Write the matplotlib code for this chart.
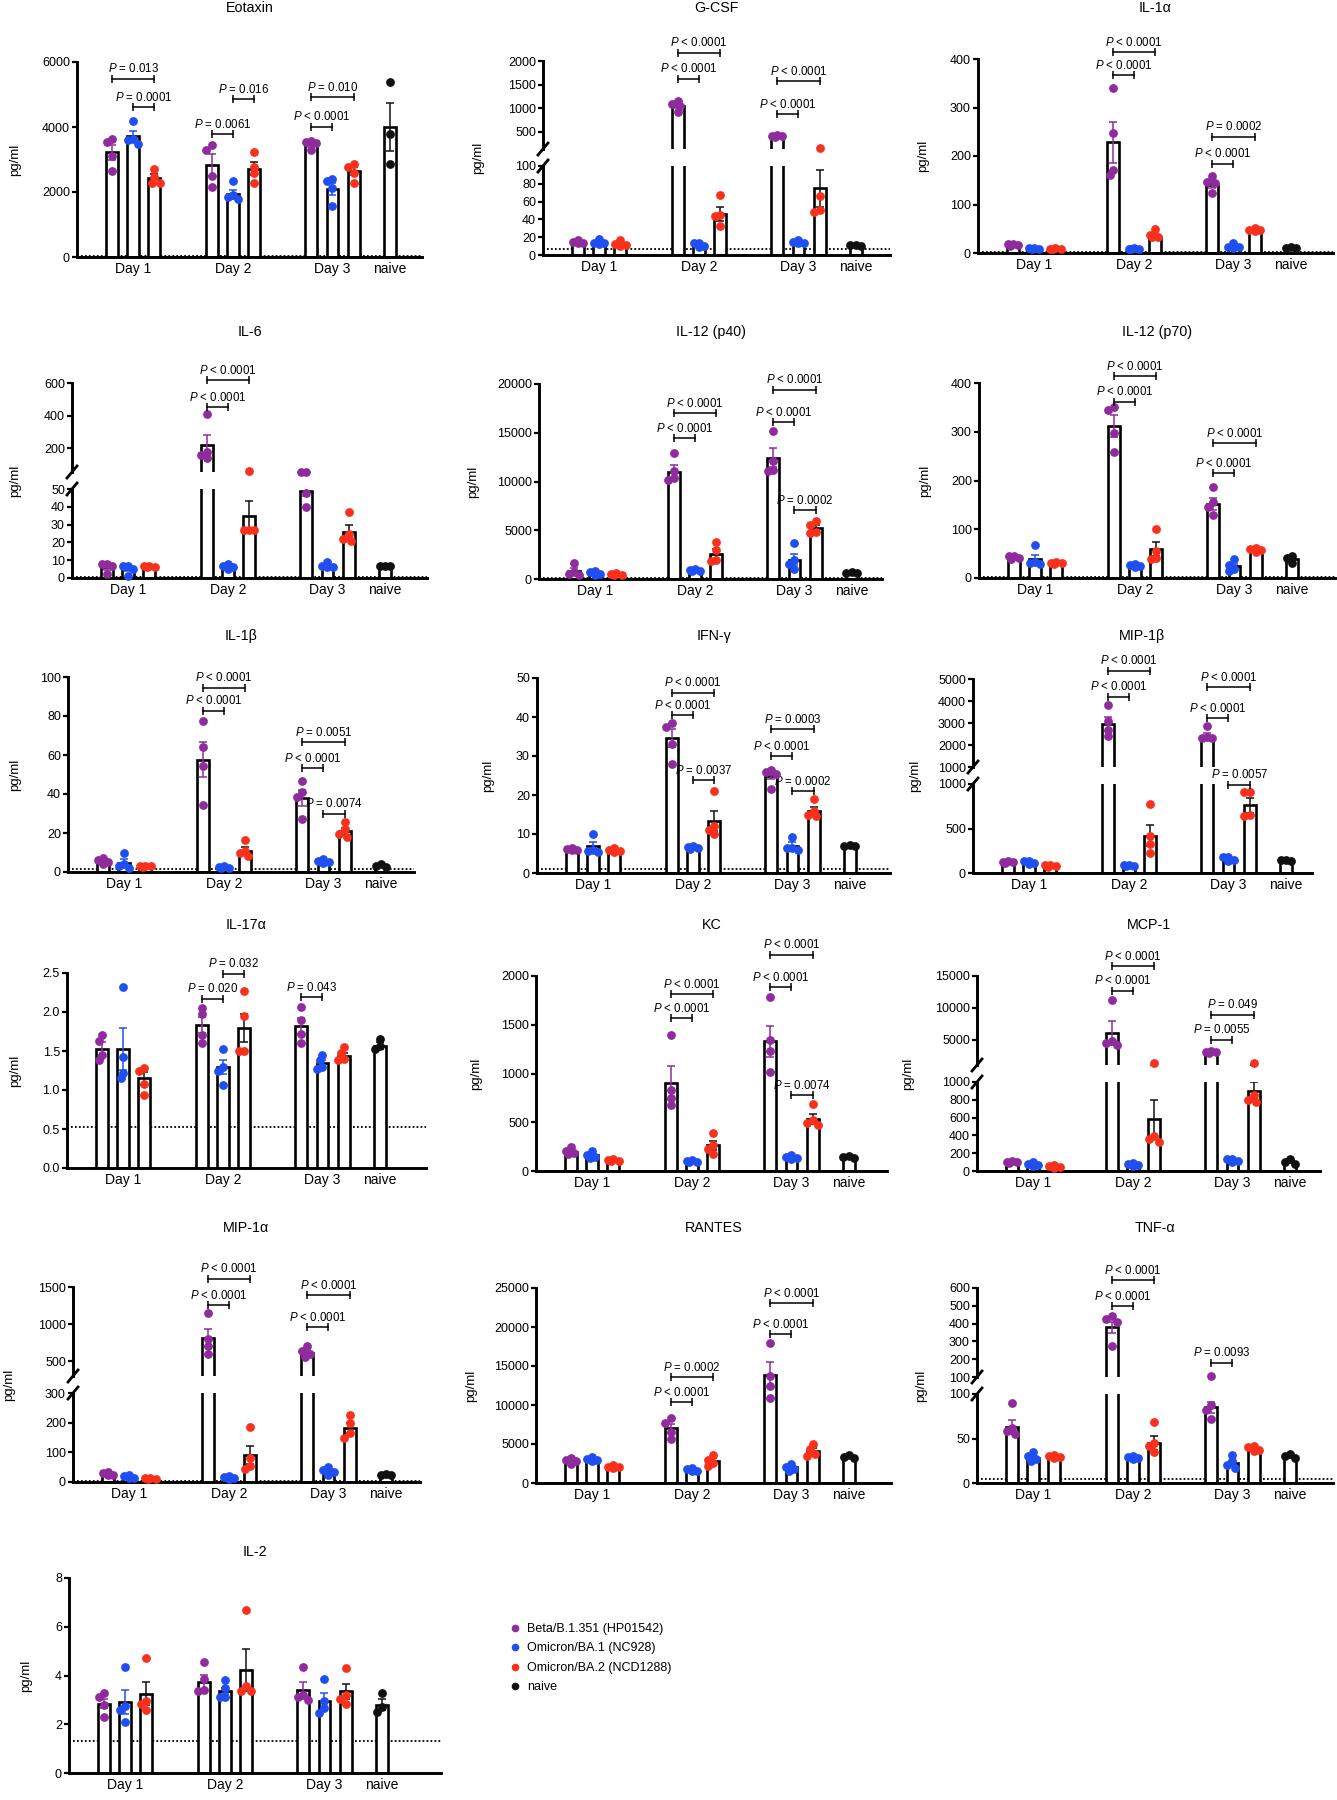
import matplotlib.pyplot as plt
from matplotlib.lines import Line2D

plt.rcParams['font.family'] = ['Liberation Sans', 'DejaVu Sans']
plt.rcParams['mathtext.fontset'] = 'custom'
plt.rcParams['mathtext.it'] = 'Liberation Sans:italic'
plt.rcParams['mathtext.rm'] = 'Liberation Sans'

W, H = 1337, 1800
fig = plt.figure(figsize=(W / 100, H / 100), dpi=100)

groups = ['Day 1', 'Day 2', 'Day 3', 'naive']
strains = ['Beta/B.1.351 (HP01542)', 'Omicron/BA.1 (NC928)',
           'Omicron/BA.2 (NCD1288)', 'naive']
colors = ['#8f2b9c', '#1f4ff0', '#f8301c', '#111111']
err_colors = ['#8f2b9c', '#1f4ff0', '#111111', '#111111']
bar_strain = [0, 1, 2, 0, 1, 2, 0, 1, 2, 3]
xpos = [0, 1, 2, 4.7, 5.7, 6.7, 9.4, 10.4, 11.4, 13.1]
group_x = [1, 5.7, 10.4, 13.1]

# ---- data: bar means, SEM, individual animals, comparisons (bar i, bar j, bracket y, label)
eotaxin_mean = [3230, 3720, 2420, 2820, 1930, 2720, 3470, 2090, 2640, 4000]
eotaxin_sem = [230, 150, 130, 340, 130, 190, 80, 190, 120, 750]
eotaxin_pts = [[3530, 3640, 3100, 2640], [4200, 3480, 3600, 3620], [2700, 2450, 2270, 2280],
               [3300, 3450, 2500, 2150], [2330, 1850, 1800, 1900], [3230, 2780, 2570, 2290],
               [3560, 3500, 3530, 3280], [2350, 2400, 2130, 1570], [2780, 2850, 2600, 2290],
               [5400, 3800, 2850]]
eotaxin_p = [(0, 2, 5480, '= 0.013'), (1, 2, 4610, '= 0.0001'), (3, 4, 3780, '= 0.0061'),
             (4, 5, 4860, '= 0.016'), (6, 8, 4920, '= 0.010'), (6, 7, 4010, '< 0.0001')]

gcsf_mean = [15, 13, 12, 1040, 11, 46, 405, 14, 75, 10]
gcsf_sem = [1, 1.5, 1.5, 40, 1, 7.5, 8, 1, 21, 0.5]
gcsf_pts = [[17, 14, 15, 14], [18, 14, 12, 13], [17, 12, 10, 11], [1090, 1160, 1040, 910],
            [14, 13, 10, 9], [67, 45, 44, 33], [420, 410, 400, 395], [17, 15, 13, 13],
            [150, 66, 51, 48], [11, 11, 10]]
gcsf_p = [(3, 5, 2180, '< 0.0001'), (3, 4, 1620, '< 0.0001'),
          (6, 8, 1565, '< 0.0001'), (6, 7, 870, '< 0.0001')]

il1a_mean = [17, 10, 9, 228, 9, 34, 141, 14, 47, 11]
il1a_sem = [1, 0.5, 0.5, 42, 0.5, 5, 7, 2, 1.5, 0.5]
il1a_pts = [[19, 18, 17, 15], [11, 10, 9, 9], [10, 9, 8, 8], [340, 247, 172, 160],
            [10, 9, 9, 8], [49, 38, 33, 32], [158, 147, 145, 124], [20, 13, 12, 11],
            [51, 48, 47, 45], [12, 11, 11]]
il1a_p = [(3, 5, 414, '< 0.0001'), (3, 4, 366, '< 0.0001'),
          (6, 8, 240, '= 0.0002'), (6, 7, 184, '< 0.0001')]

il6_mean = [6, 5, 6, 220, 6, 35, 49, 6, 26, 7]
il6_sem = [1.3, 1.3, 0.5, 65, 0.7, 8, 3, 0.8, 4, 0.3]
il6_pts = [[8, 8, 7, 2], [7, 7, 5, 1], [7, 7, 6, 6], [410, 180, 160, 140], [8, 7, 6, 5],
           [60, 27, 27, 27], [58, 58, 48, 40], [9, 7, 6, 6], [37, 25, 22, 21], [7, 7, 7]]
il6_p = [(3, 5, 616, '< 0.0001'), (3, 4, 452, '< 0.0001')]

p40_mean = [800, 600, 500, 10950, 900, 2600, 12450, 2000, 5200, 650]
p40_sem = [300, 100, 50, 700, 80, 500, 950, 600, 300, 50]
p40_pts = [[1600, 700, 400, 500], [850, 700, 500, 450], [600, 500, 450, 450],
           [12900, 11100, 10400, 10200], [1000, 950, 850, 800], [3800, 3000, 1900, 1800],
           [15200, 12100, 11200, 11100], [3700, 1900, 1500, 1000], [5900, 5500, 4700, 4800],
           [700, 650, 600]]
p40_p = [(3, 5, 17000, '< 0.0001'), (3, 4, 14440, '< 0.0001'), (6, 8, 19390, '< 0.0001'),
         (6, 7, 16080, '< 0.0001'), (7, 8, 7030, '= 0.0002')]

p70_mean = [41, 38, 30, 312, 25, 59, 152, 24, 57, 39]
p70_sem = [2, 10, 1, 22, 1.5, 14, 12, 5, 2, 4]
p70_pts = [[46, 46, 42, 39], [67, 32, 30, 28], [32, 30, 30, 29], [350, 345, 298, 258],
           [28, 26, 24, 22], [100, 55, 42, 40], [187, 155, 145, 130], [38, 27, 18, 15],
           [62, 60, 58, 53], [46, 42, 31]]
p70_p = [(3, 5, 414, '< 0.0001'), (3, 4, 362, '< 0.0001'),
         (6, 8, 276, '< 0.0001'), (6, 7, 215, '< 0.0001')]

il1b_mean = [5, 4.6, 3, 57.5, 2.5, 11, 38, 5, 21, 3]
il1b_sem = [0.7, 2, 0.2, 9, 0.2, 2, 4.3, 0.6, 1.8, 0.4]
il1b_pts = [[7, 6, 5, 4], [10, 4, 3, 2], [3.3, 3, 3, 2.8], [77.5, 64, 54.5, 34.5],
            [3, 2.7, 2.3, 2], [16.5, 11, 10, 8], [46.5, 41, 38.5, 27], [6.5, 5.5, 5, 4.5],
            [25.5, 22, 19.5, 18], [4, 3, 2.5]]
il1b_p = [(3, 5, 94.4, '< 0.0001'), (3, 4, 82.7, '< 0.0001'), (6, 8, 66.5, '= 0.0051'),
          (6, 7, 53.3, '< 0.0001'), (7, 8, 29.9, '= 0.0074')]

ifng_mean = [6, 6.8, 6, 34.5, 6.5, 13.3, 25, 7, 16, 7]
ifng_sem = [0.2, 1.2, 0.2, 2.3, 0.15, 2.6, 0.8, 1, 1, 0.2]
ifng_pts = [[6.5, 6.2, 6, 5.8], [10, 6, 5.7, 5.5], [6.3, 6, 5.7, 5.5], [38.5, 37.5, 33, 28],
            [6.8, 6.6, 6.4, 6.2], [21, 12, 11, 10], [26.5, 26, 25.5, 21.5], [9.3, 6.5, 6.3, 6],
            [19, 16, 15, 14.5], [7.2, 7, 6.8]]
ifng_p = [(3, 5, 46.2, '< 0.0001'), (3, 4, 40.4, '< 0.0001'), (4, 5, 23.8, '= 0.0037'),
          (6, 8, 36.8, '= 0.0003'), (6, 7, 30, '< 0.0001'), (7, 8, 20.9, '= 0.0002')]

mip1b_mean = [120, 120, 80, 2960, 80, 420, 2400, 160, 760, 140]
mip1b_sem = [5, 10, 6, 320, 4, 120, 140, 12, 85, 5]
mip1b_pts = [[130, 125, 120, 115], [140, 135, 110, 100], [95, 85, 75, 70],
             [3800, 3100, 2700, 2400], [90, 85, 80, 75], [770, 420, 330, 230],
             [2850, 2350, 2300, 2300], [185, 175, 150, 130], [910, 910, 650, 640],
             [150, 145, 135]]
mip1b_p = [(3, 5, 5376, '< 0.0001'), (3, 4, 4203, '< 0.0001'), (6, 8, 4624, '< 0.0001'),
           (6, 7, 3225, '< 0.0001'), (7, 8, 992, '= 0.0057')]

il17_mean = [1.53, 1.53, 1.15, 1.83, 1.29, 1.80, 1.82, 1.35, 1.43, 1.57]
il17_sem = [0.08, 0.27, 0.08, 0.10, 0.09, 0.18, 0.10, 0.04, 0.04, 0.04]
il17_pts = [[1.70, 1.63, 1.45, 1.38], [2.32, 1.42, 1.22, 1.15], [1.28, 1.25, 1.08, 0.93],
            [2.05, 1.97, 1.70, 1.60], [1.53, 1.30, 1.25, 1.06], [2.27, 1.95, 1.50, 1.50],
            [2.06, 1.90, 1.72, 1.60], [1.45, 1.38, 1.30, 1.27], [1.55, 1.48, 1.40, 1.38],
            [1.65, 1.57, 1.53]]
il17_p = [(3, 4, 2.17, '= 0.020'), (4, 5, 2.49, '= 0.032'), (6, 7, 2.19, '= 0.043')]

kc_mean = [190, 160, 110, 900, 100, 265, 1330, 140, 530, 140]
kc_sem = [20, 15, 5, 175, 5, 45, 160, 10, 50, 8]
kc_pts = [[250, 210, 180, 170], [205, 160, 140, 130], [120, 115, 105, 100],
          [1400, 830, 750, 680], [110, 105, 95, 90], [390, 270, 230, 170],
          [1780, 1340, 1230, 1020], [160, 145, 135, 120], [690, 520, 490, 470], [150, 140, 130]]
kc_p = [(3, 5, 1815, '< 0.0001'), (3, 4, 1565, '< 0.0001'), (6, 8, 2216, '< 0.0001'),
        (6, 7, 1884, '< 0.0001'), (7, 8, 777, '= 0.0074')]

mcp1_mean = [100, 80, 50, 6000, 70, 580, 3000, 120, 900, 100]
mcp1_sem = [4, 9, 9, 1850, 8, 220, 70, 9, 100, 12]
mcp1_pts = [[110, 105, 100, 95], [100, 80, 70, 60], [70, 55, 40, 35],
            [11200, 4800, 4500, 4200], [90, 75, 65, 55], [1350, 390, 360, 330],
            [3200, 3100, 3000, 2900], [140, 130, 115, 100], [1350, 850, 800, 780],
            [130, 100, 80]]
mcp1_p = [(3, 5, 16560, '< 0.0001'), (3, 4, 12710, '< 0.0001'),
          (6, 8, 8900, '= 0.049'), (6, 7, 5000, '= 0.0055')]

mip1a_mean = [28, 18, 12, 810, 15, 90, 610, 37, 183, 25]
mip1a_sem = [3, 3, 1.3, 120, 2, 30, 35, 5, 17, 2]
mip1a_pts = [[35, 32, 25, 22], [25, 20, 15, 12], [15, 13, 11, 10], [1150, 800, 700, 600],
             [20, 16, 14, 10], [185, 80, 55, 45], [700, 640, 600, 550], [50, 40, 35, 25],
             [225, 200, 165, 150], [28, 25, 22]]
mip1a_p = [(3, 5, 1612, '< 0.0001'), (3, 4, 1252, '< 0.0001'),
           (6, 8, 1387, '< 0.0001'), (6, 7, 955, '< 0.0001')]

rantes_mean = [2900, 3000, 2100, 7000, 1700, 2800, 13900, 2000, 4100, 3400]
rantes_sem = [200, 150, 100, 550, 100, 400, 1600, 250, 450, 200]
rantes_pts = [[3200, 3000, 2800, 2500], [3300, 3100, 2900, 2800], [2300, 2100, 2000, 1900],
              [8300, 7700, 6500, 5700], [1900, 1800, 1600, 1500], [3600, 3000, 2600, 2200],
              [18000, 13700, 12500, 10900], [2500, 2000, 1800, 1500],
              [5000, 4300, 3700, 3400], [3600, 3300, 3200]]
rantes_p = [(3, 5, 13590, '= 0.0002'), (3, 4, 10380, '< 0.0001'),
            (6, 8, 23080, '< 0.0001'), (6, 7, 19060, '< 0.0001')]

tnf_mean = [63, 28, 29, 380, 28, 45, 85, 22, 38, 30]
tnf_sem = [8, 2, 1, 30, 1, 8, 6, 3, 1.5, 1.5]
tnf_pts = [[90, 62, 58, 55], [35, 30, 27, 25], [31, 30, 29, 28], [440, 425, 410, 275],
           [30, 29, 28, 27], [68, 45, 42, 35], [103, 88, 82, 72], [32, 25, 20, 17],
           [42, 40, 37, 36], [33, 30, 28]]
tnf_p = [(3, 5, 643, '< 0.0001'), (3, 4, 497, '< 0.0001'), (6, 7, 180, '= 0.0093')]

il2_mean = [2.85, 2.93, 3.25, 3.72, 3.37, 4.22, 3.4, 2.97, 3.35, 2.8]
il2_sem = [0.2, 0.49, 0.48, 0.3, 0.13, 0.85, 0.32, 0.31, 0.32, 0.22]
il2_pts = [[3.3, 3.1, 2.8, 2.3], [4.35, 2.75, 2.6, 2.1], [4.7, 2.95, 2.85, 2.6],
           [4.55, 3.85, 3.4, 3.35], [3.8, 3.5, 3.1, 3.1], [6.7, 3.55, 3.35, 3.35],
           [4.35, 3.2, 3.1, 3.0], [3.85, 2.95, 2.65, 2.45], [4.3, 3.2, 3.05, 2.85],
           [3.3, 2.7, 2.5]]

UNIT = 21.2  # pixels per bar slot


def swarm(ys, d=6.0, step=2.6):
    # small beeswarm in pixel space; dots may overlap but stay inside the bar
    placed = []
    offs = [0.0] * len(ys)
    cands = [0, -1, 1, -2, 2]
    for k in sorted(range(len(ys)), key=lambda k: -ys[k]):
        best, best_d = 0.0, -1.0
        for c in cands:
            x = c * step
            dmin = min([((x - qx) ** 2 + (ys[k] - qy) ** 2) ** 0.5 for qx, qy in placed] or [99])
            if dmin >= d:
                best = x
                break
            if dmin > best_d + 0.5:
                best, best_d = x, dmin
        placed.append((best, ys[k]))
        offs[k] = best / UNIT
    return offs


def panel(title, box, title_y, ylab_dx, means, sems, pts, annots, lod,
          ticks, ylim, up_ticks=None, up_lim=None, fmt='{:g}'):
    L, R, Z, T = box
    xlim = (-1.65, -1.65 + (R - L) / UNIT)
    broken = up_lim is not None
    if broken:
        lo = fig.add_axes([L / W, 1 - Z / H, (R - L) / W, 89 / H])
        hi = fig.add_axes([L / W, 1 - (Z - 106) / H, (R - L) / W, (Z - 106 - T) / H])
        axes = [(lo, ylim, ticks), (hi, up_lim, up_ticks)]
    else:
        lo = fig.add_axes([L / W, 1 - Z / H, (R - L) / W, (Z - T) / H])
        axes = [(lo, ylim, ticks)]

    def px(v):
        if not broken:
            return (v - ylim[0]) / (ylim[1] - ylim[0]) * (Z - T)
        if v <= ylim[1]:
            return v / ylim[1] * 89
        return 106 + (v - up_lim[0]) / (up_lim[1] - up_lim[0]) * (Z - 106 - T)

    for ax, lim, tk in axes:
        ax.bar(xpos, means, width=0.56, color='white', edgecolor='black',
               linewidth=1.9, zorder=2)
        for i, x in enumerate(xpos):
            ax.errorbar(x, means[i], yerr=sems[i], fmt='none',
                        ecolor=err_colors[bar_strain[i]],
                        elinewidth=1.1, capsize=3.2, capthick=1.1, zorder=3)
        ax.set_xlim(*xlim)
        ax.set_ylim(*lim)
        ax.set_yticks(tk)
        ax.set_yticklabels([fmt.format(t) for t in tk])
        ax.tick_params(axis='y', length=3.6, width=1.6, labelsize=9, pad=1.5)
        ax.spines['top'].set_visible(False)
        ax.spines['right'].set_visible(False)
        ax.spines['left'].set_linewidth(2.1)
        ax.spines['bottom'].set_linewidth(2.1)
        ax.patch.set_alpha(0)

    # individual animals: each dot goes on the segment that holds its value
    for i, x in enumerate(xpos):
        offs = swarm([px(v) for v in pts[i]])
        for v, o in zip(pts[i], offs):
            ax = hi if broken and v > ylim[1] else lo
            ax.scatter([x + o], [v], s=40, color=colors[bar_strain[i]], linewidths=0,
                       zorder=4, clip_on=not broken)

    lo.axhline(lod, color='black', lw=1.3, ls=(0, (1, 1.2)), zorder=1)
    lo.set_xticks(group_x)
    lo.set_xticklabels(groups, fontsize=10)
    lo.tick_params(axis='x', length=0, pad=3.5)
    if broken:
        hi.spines['bottom'].set_visible(False)
        hi.set_xticks([])
        for y in (Z - 89, Z - 106):
            fig.add_artist(Line2D([(L - 5) / W, (L + 5) / W],
                                  [1 - (y + 6) / H, 1 - (y - 6) / H],
                                  color='black', lw=2))

    for i, j, y, lab in annots:
        ax = hi if broken and y >= up_lim[0] else lo
        ax.plot([xpos[i], xpos[j]], [y, y], color='black', lw=1.1, marker='|',
                markersize=6, mew=1.1, clip_on=False, zorder=5)
        ax.annotate('$P$ ' + lab, xy=((xpos[i] + xpos[j]) / 2, y), xytext=(0, 2.5),
                    textcoords='offset points', ha='center', va='bottom', fontsize=8.3,
                    annotation_clip=False)

    fig.text((L + R) / 2 / W, 1 - title_y / H, title, ha='center', va='center', fontsize=10.3)
    fig.text((L - ylab_dx) / W, 1 - (Z + T) / 2 / H, 'pg/ml', rotation=90,
             ha='center', va='center', fontsize=9.5)
    return lo


panel('Eotaxin', (77, 422, 257, 62), 8, 62, eotaxin_mean, eotaxin_sem, eotaxin_pts,
      eotaxin_p, 20, [0, 2000, 4000, 6000], (0, 6000))
panel('G-CSF', (543, 890, 255, 61), 8, 65, gcsf_mean, gcsf_sem, gcsf_pts, gcsf_p, 6.5,
      [0, 20, 40, 60, 80, 100], (0, 100), [500, 1000, 1500, 2000], (130, 2000))
panel('IL-1α', (978, 1333, 253, 59), 8, 55, il1a_mean, il1a_sem, il1a_pts, il1a_p, 1.5,
      [0, 100, 200, 300, 400], (0, 400))

panel('IL-6', (72, 427, 578, 383), 332, 57, il6_mean, il6_sem, il6_pts, il6_p, 0.7,
      [0, 10, 20, 30, 40, 50], (0, 50), [200, 400, 600], (56, 600))
panel('IL-12 (p40)', (539, 882, 579, 384), 332, 66, p40_mean, p40_sem, p40_pts, p40_p, 80,
      [0, 5000, 10000, 15000, 20000], (0, 20000))
panel('IL-12 (p70)', (979, 1335, 578, 383), 332, 54, p70_mean, p70_sem, p70_pts, p70_p, 1.5,
      [0, 100, 200, 300, 400], (0, 400))

panel('IL-1β', (68, 414, 872, 677), 636, 53, il1b_mean, il1b_sem, il1b_pts, il1b_p, 1.5,
      [0, 20, 40, 60, 80, 100], (0, 100))
panel('IFN-γ', (537, 890, 873, 678), 636, 49, ifng_mean, ifng_sem, ifng_pts, ifng_p, 1.0,
      [0, 10, 20, 30, 40, 50], (0, 50))
panel('MIP-1β', (973, 1312, 873, 679), 636, 58, mip1b_mean, mip1b_sem, mip1b_pts, mip1b_p, 5,
      [0, 500, 1000], (0, 1000), [1000, 2000, 3000, 4000, 5000], (1000, 5000))

panel('IL-17α', (67, 426, 1168, 973), 925, 52, il17_mean, il17_sem, il17_pts, il17_p, 0.53,
      [0, 0.5, 1.0, 1.5, 2.0, 2.5], (0, 2.5), fmt='{:.1f}')
panel('KC', (536, 887, 1171, 976), 925, 60, kc_mean, kc_sem, kc_pts, kc_p, 4,
      [0, 500, 1000, 1500, 2000], (0, 2000))
panel('MCP-1', (977, 1320, 1171, 976), 925, 69, mcp1_mean, mcp1_sem, mcp1_pts, mcp1_p, 5,
      [0, 200, 400, 600, 800, 1000], (0, 1000), [5000, 10000, 15000], (1000, 15000))

panel('MIP-1α', (73, 420, 1482, 1287), 1228, 64, mip1a_mean, mip1a_sem, mip1a_pts, mip1a_p, 2,
      [0, 100, 200, 300], (0, 300), [500, 1000, 1500], (300, 1500))
panel('RANTES', (536, 891, 1483, 1288), 1228, 65, rantes_mean, rantes_sem, rantes_pts,
      rantes_p, 60, [0, 5000, 10000, 15000, 20000, 25000], (0, 25000))
panel('TNF-α', (977, 1333, 1483, 1288), 1228, 56, tnf_mean, tnf_sem, tnf_pts, tnf_p, 4.5,
      [0, 50, 100], (0, 100), [100, 200, 300, 400, 500, 600], (100, 600))

panel('IL-2', (69, 441, 1773, 1578), 1552, 43, il2_mean, il2_sem, il2_pts, [], 1.3,
      [0, 2, 4, 6, 8], (0, 8))

handles = [Line2D([], [], ls='', marker='o', ms=4.5, color=c) for c in colors]
fig.legend(handles, strains, loc='upper left', bbox_to_anchor=(512 / W, 1 - 1623 / H),
           frameon=False, fontsize=9, handlelength=0.5, handletextpad=0.7,
           labelspacing=0.6, borderaxespad=0, borderpad=0)

fig.savefig('out.png', dpi=100)
